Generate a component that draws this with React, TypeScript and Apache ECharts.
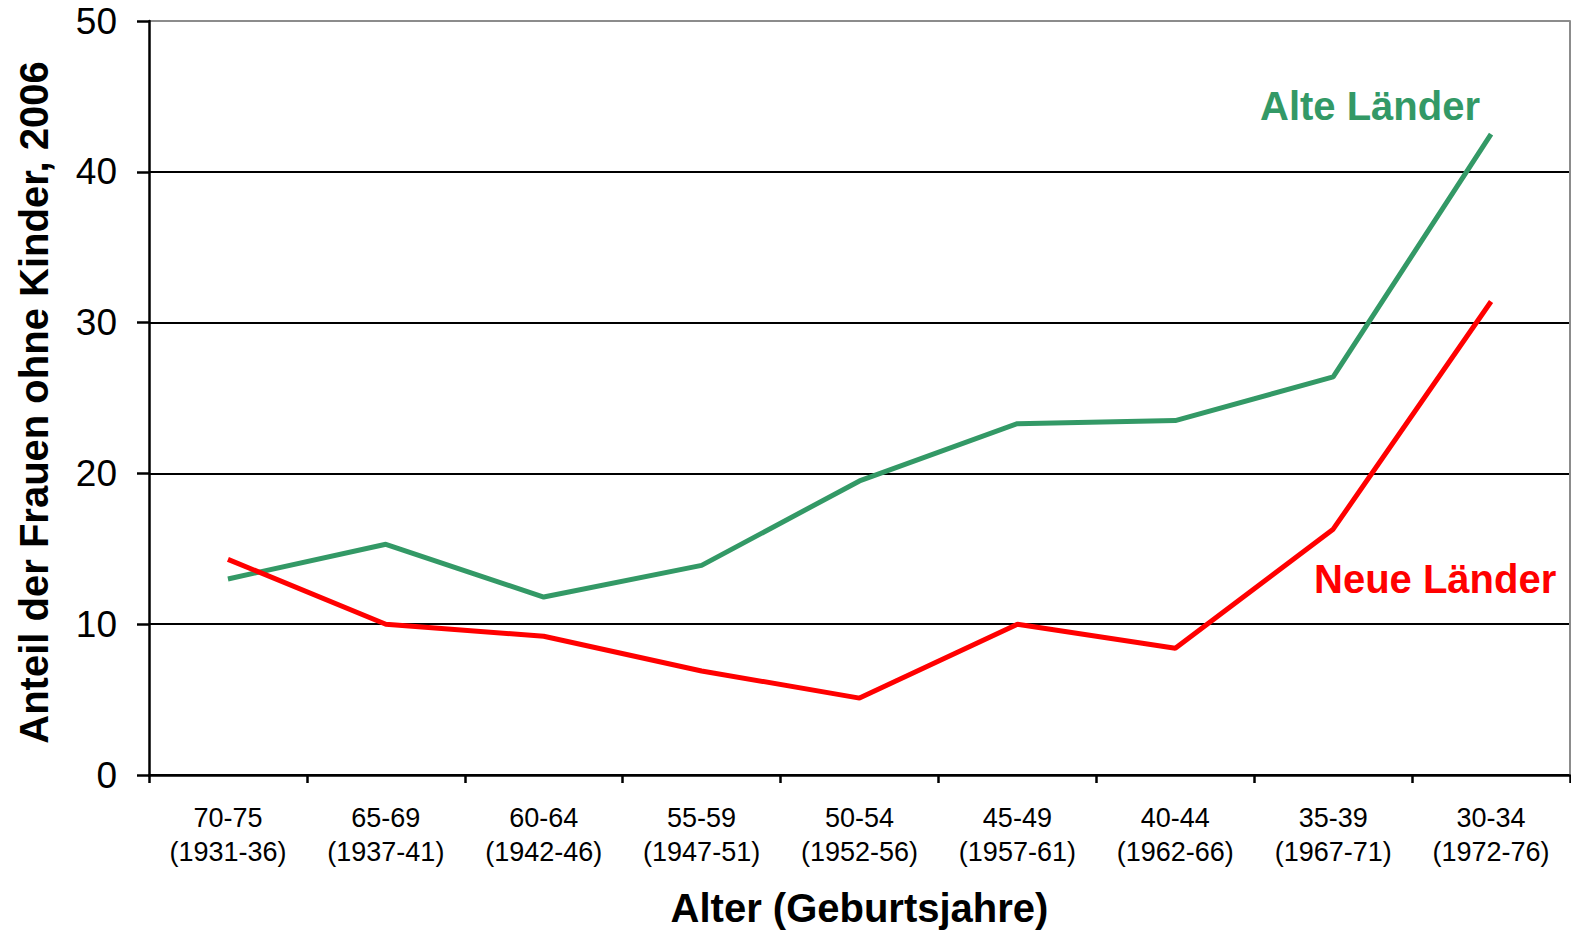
import React, { useEffect, useRef } from "react";
import * as echarts from "echarts";

const categories = [
  "70-75\n(1931-36)",
  "65-69\n(1937-41)",
  "60-64\n(1942-46)",
  "55-59\n(1947-51)",
  "50-54\n(1952-56)",
  "45-49\n(1957-61)",
  "40-44\n(1962-66)",
  "35-39\n(1967-71)",
  "30-34\n(1972-76)",
];
const alteLaender = [13.0, 15.3, 11.8, 13.9, 19.5, 23.3, 23.5, 26.4, 42.5];
const neueLaender = [14.3, 10.0, 9.2, 6.9, 5.1, 10.0, 8.4, 16.3, 31.4];
const yTicks = [0, 10, 20, 30, 40, 50];

const FONT = "'Liberation Sans', Arial, Helvetica, sans-serif";
const GREEN = "#339966";
const RED = "#ff0000";

export default function App() {
  const ref = useRef<HTMLDivElement>(null);
  useEffect(() => {
    if (!ref.current) return;
    const chart = echarts.init(ref.current, undefined, { renderer: "svg" });
    chart.setOption({
      animation: false,
      backgroundColor: "#ffffff",
      grid: { left: 149, right: 1, top: 21, bottom: 154, containLabel: false },
      xAxis: {
        type: "category",
        data: categories,
        boundaryGap: true,
        name: "Alter (Geburtsjahre)",
        nameLocation: "middle",
        nameGap: 113,
        nameTextStyle: { fontFamily: FONT, fontSize: 40, fontWeight: "bold", color: "#000" },
        axisLine: { lineStyle: { color: "#000", width: 2.5 } },
        axisTick: { show: true, length: 8, alignWithLabel: false, lineStyle: { color: "#000", width: 2.5 } },
        axisLabel: { fontFamily: FONT, fontSize: 27, color: "#000", lineHeight: 34, margin: 26, interval: 0 },
        splitLine: { show: false },
      },
      yAxis: [
        {
          type: "value",
          min: yTicks[0],
          max: yTicks[yTicks.length - 1],
          interval: 10,
          name: "Anteil der Frauen ohne Kinder, 2006",
          nameLocation: "middle",
          nameGap: 95,
          nameTextStyle: {
            fontFamily: FONT,
            fontSize: 40,
            fontWeight: "bold",
            color: "#000",
            padding: [0, 9, 0, 0],
          },
          axisLine: { show: true, lineStyle: { color: "#000", width: 2.5 } },
          axisTick: { show: true, length: 12, lineStyle: { color: "#000", width: 2.5 } },
          axisLabel: { fontFamily: FONT, fontSize: 37, color: "#000", margin: 32, padding: [5, 0, 0, 0] },
          splitLine: {
            show: true,
            lineStyle: { color: ["#000", "#000", "#000", "#000", "#000", "#8c8c8c"], width: 2 },
          },
        },
        {
          type: "value",
          min: yTicks[0],
          max: yTicks[yTicks.length - 1],
          interval: 10,
          position: "right",
          axisLine: { show: true, lineStyle: { color: "#8c8c8c", width: 2 } },
          axisTick: { show: false },
          axisLabel: { show: false },
          splitLine: { show: false },
        },
      ],
      series: [
        {
          name: "Alte Länder",
          type: "line",
          data: alteLaender,
          symbol: "none",
          lineStyle: { color: GREEN, width: 5 },
          itemStyle: { color: GREEN },
        },
        {
          name: "Neue Länder",
          type: "line",
          data: neueLaender,
          symbol: "none",
          lineStyle: { color: RED, width: 5 },
          itemStyle: { color: RED },
        },
      ],
      graphic: [
        {
          type: "text",
          left: 1260,
          top: 86,
          style: { text: "Alte Länder", fill: GREEN, font: `bold 40px ${FONT}` },
        },
        {
          type: "text",
          left: 1314,
          top: 559,
          style: { text: "Neue Länder", fill: RED, font: `bold 40px ${FONT}` },
        },
      ],
    });
    return () => chart.dispose();
  }, []);
  return <div ref={ref} style={{ width: 1571, height: 933, position: "absolute", left: 0, top: 0 }} />;
}
